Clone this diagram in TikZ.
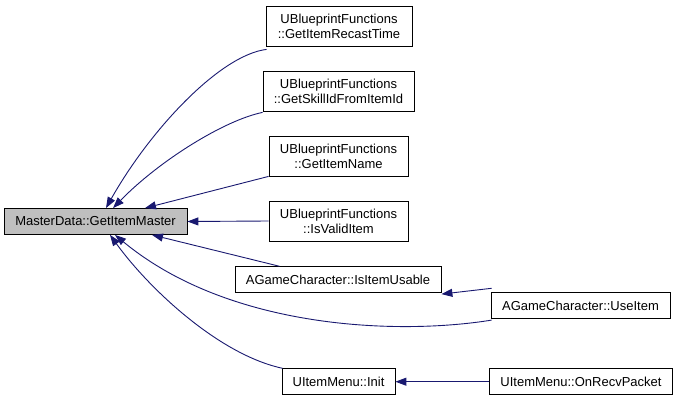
\documentclass[tikz,border=0pt]{standalone}
\usepackage{fontspec}
\setmainfont{Liberation Sans}
\usepackage{tikz}
\usetikzlibrary{arrows.meta, positioning}
\definecolor{edgeblue}{HTML}{191970}
\definecolor{focusgray}{HTML}{BFBFBF}
\tikzset{
  fn/.style={rectangle, draw=black, line width=0.8pt, fill=white, align=center, font=\fontsize{13}{15}\selectfont, inner sep=0pt, minimum height=26pt},
  fntwo/.style={fn, minimum height=40pt},
  focus/.style={fn, fill=focusgray},
  arr/.style={-{Triangle[length=11pt, width=8pt]}, line width=0.9pt, edgeblue},
}
\begin{document}
\begin{tikzpicture}[x=1pt, y=-1pt]
\useasboundingbox (0,0) rectangle (677,401);
\node[focus, minimum width=183pt] (master) at (95.5,221.5) {MasterData::GetItemMaster};
\node[fntwo, minimum width=146pt] (recast) at (339,26) {UBlueprintFunctions\\::GetItemRecastTime};
\node[fntwo, minimum width=151pt] (skill) at (338.5,91) {UBlueprintFunctions\\::GetSkillIdFromItemId};
\node[fntwo, minimum width=139pt] (iname) at (338.5,156) {UBlueprintFunctions\\::GetItemName};
\node[fntwo, minimum width=139pt] (valid) at (338.5,221) {UBlueprintFunctions\\::IsValidItem};
\node[fn, minimum width=206pt] (usable) at (338,279.7) {AGameCharacter::IsItemUsable};
\node[fn, minimum width=179pt] (useitem) at (580.5,305.7) {AGameCharacter::UseItem};
\node[fn, minimum width=113pt] (init) at (338.5,381.7) {UItemMenu::Init};
\node[fn, minimum width=183pt] (recv) at (581,381.7) {UItemMenu::OnRecvPacket};
% callers -> master
\draw[arr] ([xshift=1pt,yshift=-3pt]recast.south west) .. controls (220,55) and (150,130) .. ([xshift=10.5pt]master.north);
\draw[arr] ([yshift=-1pt]skill.south west) .. controls (225,120) and (160,160) .. ([xshift=17.5pt]master.north);
\draw[arr] (iname.south west) -- ([xshift=49.5pt]master.north);
\draw[arr] (valid.west) -- (master.east);
\draw[arr] ([xshift=45pt]usable.north west) -- ([xshift=56.5pt]master.south);
\draw[arr] ([xshift=1pt,yshift=-1pt]useitem.south west) .. controls (400,335) and (230,330) .. ([xshift=19.5pt]master.south);
\draw[arr] ([xshift=1pt]init.north west) .. controls (220,355) and (150,290) .. ([xshift=14.5pt]master.south);
% second level
\draw[arr] ([xshift=1pt,yshift=4pt]useitem.north west) -- ([yshift=-1pt]usable.south east);
\draw[arr] (recv.west) -- (init.east);
\end{tikzpicture}
\end{document}
